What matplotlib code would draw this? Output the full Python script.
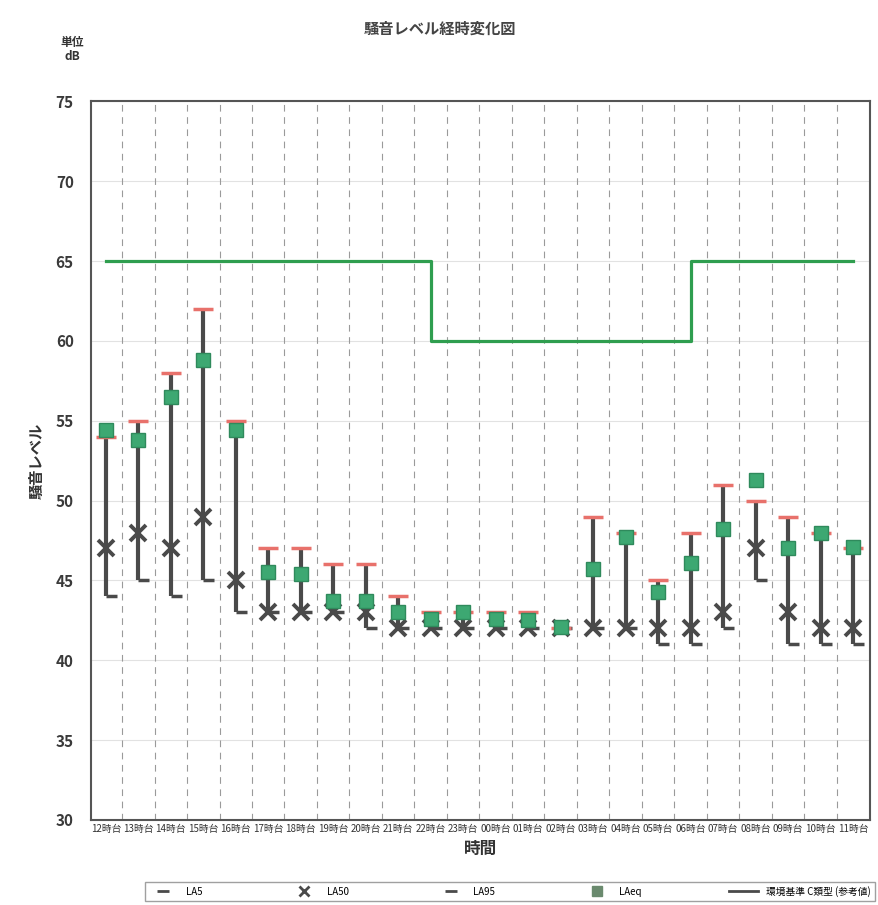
import matplotlib
matplotlib.use("Agg")
import matplotlib.pyplot as plt
import numpy as np

plt.rcParams['font.family'] = ['Noto Sans CJK JP', 'DejaVu Sans']

# 時間帯
hours = ["12時台", "13時台", "14時台", "15時台", "16時台", "17時台", "18時台", "19時台",
         "20時台", "21時台", "22時台", "23時台", "00時台", "01時台", "02時台", "03時台",
         "04時台", "05時台", "06時台", "07時台", "08時台", "09時台", "10時台", "11時台"]

la5 = [54, 55, 58, 62, 55, 47, 47, 46, 46, 44, 43, 43, 43, 43, 42, 49, 48, 45, 48, 51, 50, 49, 48, 47]
la50 = [47, 48, 47, 49, 45, 43, 43, 43, 43, 42, 42, 42, 42, 42, 42, 42, 42, 42, 42, 43, 47, 43, 42, 42]
la95 = [44, 45, 44, 45, 43, 43, 43, 43, 42, 42, 42, 42, 42, 42, 42, 42, 42, 41, 41, 42, 45, 41, 41, 41]
laeq = [54.4, 53.8, 56.5, 58.8, 54.4, 45.5, 45.4, 43.7, 43.7, 43.0, 42.6, 43.0,
        42.6, 42.5, 42.1, 45.7, 47.7, 44.3, 46.1, 48.2, 51.3, 47.0, 48.0, 47.1]
# 環境基準 C類型 (参考値)
kijun = [65, 65, 65, 65, 65, 65, 65, 65, 65, 65, 60, 60,
         60, 60, 60, 60, 60, 60, 65, 65, 65, 65, 65, 65]

x = np.arange(len(hours))
dark = "#4a4a4a"

fig = plt.figure(figsize=(8.79, 9.05), dpi=100)
ax = fig.add_axes([0.103, 0.094, 0.887, 0.794])

# grid
for v in range(30, 80, 5):
    ax.axhline(v, color="#e2e2e2", lw=0.8, zorder=0)
for i in range(len(hours) - 1):
    ax.axvline(i + 0.5, color="#9a9a9a", lw=0.8, ls=(0, (6, 5)), zorder=0)

ax.plot(x, kijun, drawstyle="steps-post", color="#2f9e4f", lw=2.3, zorder=2)

ax.vlines(x, la95, la5, color=dark, lw=3, zorder=3)
ax.plot(x, la95, ls="none", marker=[(0, 0), (1, 0)], ms=16, mew=2.5,
        color=dark, zorder=3)
ax.plot(x, la50, ls="none", marker="x", ms=11, mew=2.8, color=dark, zorder=4)
ax.plot(x, la5, ls="none", marker="_", ms=14, mew=2.5, color="#e8716b", zorder=4)
ax.plot(x, laeq, ls="none", marker="s", ms=10, color="#3da872",
        mec="#2f8a5c", zorder=5)

ax.set_xlim(-0.47, 23.53)
ax.set_ylim(30, 75)
ax.set_yticks(range(30, 80, 5))
ax.set_xticks(x)
ax.set_xticklabels(hours, fontsize=7, color="#333333")
ax.tick_params(axis="y", labelsize=11, colors="#3a3a3a", length=0, pad=12)
for t in ax.get_yticklabels():
    t.set_fontweight("bold")
ax.tick_params(axis="x", length=0, pad=3)
for s in ax.spines.values():
    s.set_color("#555555")
    s.set_linewidth(1.5)

ax.set_xlabel("時間", fontsize=12, fontweight="bold", color="#333333", labelpad=4)
ax.set_ylabel("騒音レベル", fontsize=11, fontweight="bold", color="#333333", labelpad=8)
fig.text(0.5, 0.963, "騒音レベル経時変化図", ha="center", fontsize=11,
         fontweight="bold", color="#444444")
fig.text(0.082, 0.945, "単位\ndB", ha="center", va="center", fontsize=8.5,
         fontweight="bold", color="#333333", linespacing=1.1)

h1, = ax.plot([], [], ls="none", marker="_", ms=8, mew=2, color=dark)
h2, = ax.plot([], [], ls="none", marker="x", ms=7, mew=2, color=dark)
h3, = ax.plot([], [], ls="none", marker="_", ms=8, mew=2, color=dark)
h4, = ax.plot([], [], ls="none", marker="s", ms=7, color="#6a8a6e")
h5, = ax.plot([], [], color=dark, lw=2)
fig.legend([h1, h2, h3, h4, h5], ["LA5", "LA50", "LA95", "LAeq", "環境基準 C類型 (参考値)"],
           loc="center", bbox_to_anchor=(0.58, 0.015), ncol=5, fontsize=7,
           frameon=True, edgecolor="#888888", fancybox=False, columnspacing=9,
           handlelength=3)

fig.savefig("out.png", dpi=100)
